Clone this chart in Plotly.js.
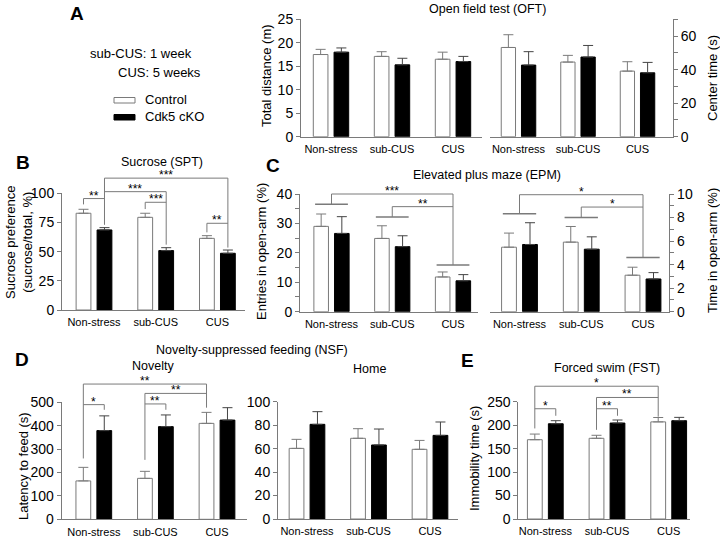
<!DOCTYPE html>
<html>
<head>
<meta charset="utf-8">
<script src="https://cdn.plot.ly/plotly-3.0.1.min.js"></script>
<style>
  html, body { margin: 0; padding: 0; background: #fff; }
  #graph { width: 720px; height: 538px; }
</style>
</head>
<body>
<div id="graph"></div>
<script>
var groups = ['Non-stress', 'sub-CUS', 'CUS'];

// A - open field test
var oftDistCtrl = [17.5, 17.1, 16.5];
var oftDistCtrlErr = [1.1, 1.0, 1.5];
var oftDistKo = [18.0, 15.3, 16.0];
var oftDistKoErr = [0.9, 1.4, 1.1];
var oftCenterCtrl = [53.2, 44.5, 39.1];
var oftCenterCtrlErr = [7.6, 4.0, 5.6];
var oftCenterKo = [42.7, 47.5, 38.1];
var oftCenterKoErr = [8.0, 6.9, 6.2];

// B - sucrose preference
var sptCtrl = [82.9, 79.4, 61.4];
var sptCtrlErr = [3.4, 3.5, 2.3];
var sptKo = [68.6, 50.9, 48.6];
var sptKoErr = [2.0, 2.5, 2.8];

// C - elevated plus maze
var epmEntryCtrl = [29.0, 24.9, 11.8];
var epmEntryCtrlErr = [4.2, 4.3, 1.7];
var epmEntryKo = [26.6, 22.1, 10.5];
var epmEntryKoErr = [5.7, 3.7, 2.1];
var epmTimeCtrl = [5.48, 5.91, 3.10];
var epmTimeCtrlErr = [1.2, 1.33, 0.68];
var epmTimeKo = [5.71, 5.31, 2.78];
var epmTimeKoErr = [1.85, 1.05, 0.54];

// D - novelty-suppressed feeding
var nsfNovCtrl = [164, 175, 410];
var nsfNovCtrlErr = [58, 30, 47];
var nsfNovKo = [379, 396, 424];
var nsfNovKoErr = [63, 50, 53];
var nsfHomeCtrl = [60.2, 68.8, 59.4];
var nsfHomeCtrlErr = [7.7, 8.2, 7.6];
var nsfHomeKo = [80.7, 63.1, 71.3];
var nsfHomeKoErr = [10.8, 13.6, 11.4];

// E - forced swim
var fstCtrl = [169, 172, 207];
var fstCtrlErr = [12, 6.4, 9.3];
var fstKo = [203, 204.5, 209.5];
var fstKoErr = [6.5, 6.5, 7.1];

// significance brackets: [from group, from side, to group, to side, level, left foot, right foot, label]
// side: -1 control bar, 1 cKO bar, 0 group centre
var sptBrackets = [
	[0, -1, 0, 1, 95.5, 90.5, 95.5, '**'],
	[0, 1, 2, 1, 113, 73, 53.5, '***'],
	[0, 1, 1, 1, 101.4, 101.4, 56, '***'],
	[1, -1, 1, 1, 92.3, 86.5, 92.3, '***'],
	[2, -1, 2, 1, 74.3, 66.5, 74.3, '**']
];
var epmEntryLines = [[0, 36.5], [1, 32.2], [2, 15.9]];
var epmEntryBrackets = [
	[0, 0, 2, 0, 40, 36.5, 15.9, '***'],
	[1, 0, 2, 0, 35.7, 32.2, 35.7, '**']
];
var epmTimeLines = [[0, 8.32], [1, 8.01], [2, 4.6]];
var epmTimeBrackets = [
	[0, 0, 2, 0, 9.94, 8.32, 4.6, '*'],
	[1, 0, 2, 0, 8.89, 8.01, 8.89, '*']
];
var nsfBrackets = [
	[0, -1, 2, -1, 578, 260, 477, '**'],
	[1, -1, 2, -1, 538, 254, 538, '**'],
	[0, -1, 0, 1, 490, 490, 468, '*'],
	[1, -1, 1, 1, 493, 493, 468, '**']
];
var fstBrackets = [
	[0, -1, 2, -1, 283, 193, 218, '*'],
	[1, -1, 2, -1, 259, 190, 259, '**'],
	[0, -1, 0, 1, 235, 235, 220, '*'],
	[1, -1, 1, 1, 235, 235, 220, '**']
];

var FONT = 'Arial, "Liberation Sans", sans-serif';
var W = 720, H = 538;
var OFF = 0.17, BW = 0.24;
var GREY = '#7a7a7a';

var traces = [];
var annotations = [];
var shapes = [];
var layout = {
	width: W, height: H,
	margin: {l: 0, r: 0, t: 0, b: 0},
	paper_bgcolor: '#fff',
	plot_bgcolor: 'rgba(0,0,0,0)',
	barmode: 'overlay',
	showlegend: false,
	font: {family: FONT, size: 12, color: '#000'},
	annotations: annotations,
	shapes: shapes
};

function sfx(n) { return n === 1 ? '' : String(n); }

function panel(n, o) {
	var s = sfx(n);
	layout['xaxis' + s] = {
		domain: [o.left / W, o.right / W],
		range: [(o.left - o.c0) / o.sp, (o.right - o.c0) / o.sp],
		anchor: 'y' + s,
		tickvals: [0, 1, 2], ticktext: groups,
		ticks: '', ticklabelstandoff: 2,
		showline: true, linecolor: GREY, linewidth: 1,
		showgrid: false, zeroline: false, fixedrange: true,
		tickfont: {size: 11}
	};
	var ya = {
		domain: [1 - o.bottom / H, 1 - o.top / H],
		range: [0, o.ymax],
		anchor: 'x' + s,
		side: o.side || 'left',
		dtick: o.dtick,
		ticks: 'outside', ticklen: 4, tickcolor: GREY,
		showline: true, linecolor: GREY, linewidth: 1,
		showgrid: false, zeroline: false, fixedrange: true,
		tickfont: {size: 14}
	};
	if (o.minor) ya.minor = {dtick: o.minor, ticks: 'outside', ticklen: 4, tickcolor: GREY, showgrid: false};
	layout['yaxis' + s] = ya;

	if (o.ext) {
		layout['yaxis' + (n + 10)] = {
			domain: [1 - o.bottom / H, 1 - o.ext / H],
			range: [0, o.ymax * (o.bottom - o.ext) / (o.bottom - o.top)],
			anchor: 'x' + s, visible: false, fixedrange: true
		};
	}

	traces.push(bars(s, o.ctrl, o.ctrlErr, false));
	traces.push(bars(s, o.ko, o.koErr, true));
	if (o.lines) groupLines(n, o.lines);
	if (o.brackets) brackets(n, o.brackets);
}

function bars(s, vals, errs, isKo) {
	return {
		type: 'bar', xaxis: 'x' + s, yaxis: 'y' + s,
		x: groups.map(function (g, i) { return i + (isKo ? OFF : -OFF); }),
		y: vals, width: BW,
		marker: {color: isKo ? '#000' : '#fff', line: {color: isKo ? '#000' : GREY, width: 1}},
		error_y: {type: 'data', symmetric: false, array: errs, arrayminus: [0, 0, 0],
			color: isKo ? '#444' : GREY, thickness: 1, width: 5},
		hoverinfo: 'skip', showlegend: false
	};
}

function groupLines(n, list) {
	list.forEach(function (l) {
		traces.push({
			type: 'scatter', mode: 'lines', xaxis: 'x' + sfx(n), yaxis: 'y' + (n + 10),
			x: [l[0] - 0.27, l[0] + 0.27], y: [l[1], l[1]],
			line: {color: GREY, width: 1.5}, hoverinfo: 'skip', showlegend: false
		});
	});
}

function brackets(n, list) {
	list.forEach(function (b) {
		var x1 = b[0] + b[1] * OFF, x2 = b[2] + b[3] * OFF;
		traces.push({
			type: 'scatter', mode: 'lines', xaxis: 'x' + sfx(n), yaxis: 'y' + (n + 10),
			x: [x1, x1, x2, x2], y: [b[5], b[4], b[4], b[6]],
			line: {color: GREY, width: 1}, hoverinfo: 'skip', showlegend: false
		});
		annotations.push({
			xref: 'x' + sfx(n), yref: 'y' + (n + 10), x: (x1 + x2) / 2, y: b[4],
			text: b[7], showarrow: false, xanchor: 'center', yanchor: 'bottom', yshift: -6,
			font: {size: 12}
		});
	});
}

function note(text, px, py, opts) {
	opts = opts || {};
	annotations.push({
		xref: 'paper', yref: 'paper', x: px / W, y: 1 - py / H,
		text: text, showarrow: false,
		xanchor: opts.xanchor || 'center', yanchor: 'middle',
		textangle: opts.angle || 0,
		font: {size: opts.size || 13, color: '#000'}
	});
}

panel(1, {left: 301, right: 482, c0: 331, sp: 61, bottom: 136.7, top: 19.3, ymax: 25, dtick: 5,
	ctrl: oftDistCtrl, ctrlErr: oftDistCtrlErr, ko: oftDistKo, koErr: oftDistKoErr});
panel(2, {left: 490, right: 673, c0: 518.5, sp: 59.5, bottom: 136.7, top: 19.3, ymax: 70, dtick: 20, minor: 10, side: 'right',
	ctrl: oftCenterCtrl, ctrlErr: oftCenterCtrlErr, ko: oftCenterKo, koErr: oftCenterKoErr});
panel(3, {left: 62, right: 245, c0: 94, sp: 61.7, bottom: 310, top: 193.3, ymax: 100, dtick: 25, ext: 165,
	ctrl: sptCtrl, ctrlErr: sptCtrlErr, ko: sptKo, koErr: sptKoErr, brackets: sptBrackets});
panel(4, {left: 300, right: 478, c0: 331.5, sp: 60.75, bottom: 311.7, top: 194, ymax: 40, dtick: 10, minor: 5, ext: 180,
	ctrl: epmEntryCtrl, ctrlErr: epmEntryCtrlErr, ko: epmEntryKo, koErr: epmEntryKoErr,
	lines: epmEntryLines, brackets: epmEntryBrackets});
panel(5, {left: 490, right: 669.3, c0: 519.5, sp: 61.75, bottom: 311.7, top: 194, ymax: 10, dtick: 2, minor: 1, side: 'right', ext: 180,
	ctrl: epmTimeCtrl, ctrlErr: epmTimeCtrlErr, ko: epmTimeKo, koErr: epmTimeKoErr,
	lines: epmTimeLines, brackets: epmTimeBrackets});
panel(6, {left: 61.7, right: 246.7, c0: 93.8, sp: 61.6, bottom: 519.3, top: 402.3, ymax: 500, dtick: 100, ext: 375,
	ctrl: nsfNovCtrl, ctrlErr: nsfNovCtrlErr, ko: nsfNovKo, koErr: nsfNovKoErr, brackets: nsfBrackets});
panel(7, {left: 278, right: 458, c0: 307, sp: 61.5, bottom: 519, top: 401.7, ymax: 100, dtick: 20,
	ctrl: nsfHomeCtrl, ctrlErr: nsfHomeCtrlErr, ko: nsfHomeKo, koErr: nsfHomeKoErr});
panel(8, {left: 518.3, right: 690, c0: 545.3, sp: 61.7, bottom: 519, top: 401.7, ymax: 250, dtick: 50, ext: 375,
	ctrl: fstCtrl, ctrlErr: fstCtrlErr, ko: fstKo, koErr: fstKoErr, brackets: fstBrackets});

// panel letters
note('<b>A</b>', 77, 13, {size: 19});
note('<b>B</b>', 23, 163, {size: 19});
note('<b>C</b>', 273, 165, {size: 19});
note('<b>D</b>', 22, 359, {size: 19});
note('<b>E</b>', 467, 360, {size: 19});

// panel titles
note('Open field test (OFT)', 487, 9.5, {size: 12.5});
note('Sucrose (SPT)', 162, 162, {size: 12.5});
note('Elevated plus maze (EPM)', 487, 175, {size: 12.5});
note('Novelty-suppressed feeding (NSF)', 252, 350, {size: 12.5});
note('Novelty', 153, 366, {size: 12.5});
note('Home', 370, 369, {size: 12.5});
note('Forced swim (FST)', 607, 368, {size: 12.5});

// axis titles
note('Total distance (m)', 266, 76, {angle: -90});
note('Center time (s)', 712, 78, {angle: -90});
note('Sucrose preference<br>(sucrose/total, %)', 19, 243, {angle: -90});
note('Entries in open-arm (%)', 262, 252, {angle: -90});
note('Time in open-arm (%)', 712, 251, {angle: -90});
note('Latency to feed (s)', 23, 466, {angle: -90});
note('Immobility time (s)', 474, 459, {angle: -90});

// stress schedule and legend
note('sub-CUS: 1 week', 88, 54, {xanchor: 'left'});
note('CUS: 5 weeks', 116, 73, {xanchor: 'left'});
note('Control', 143, 100, {xanchor: 'left'});
note('Cdk5 cKO', 143, 117, {xanchor: 'left'});
shapes.push({type: 'rect', xref: 'paper', yref: 'paper', x0: 114 / W, x1: 135 / W, y0: 1 - 103 / H, y1: 1 - 97.5 / H,
	fillcolor: '#fff', line: {color: GREY, width: 1}});
shapes.push({type: 'rect', xref: 'paper', yref: 'paper', x0: 114 / W, x1: 135 / W, y0: 1 - 120 / H, y1: 1 - 114.5 / H,
	fillcolor: '#000', line: {color: '#000', width: 1}});

Plotly.newPlot('graph', traces, layout, {staticPlot: true, displayModeBar: false});
</script>
</body>
</html>
